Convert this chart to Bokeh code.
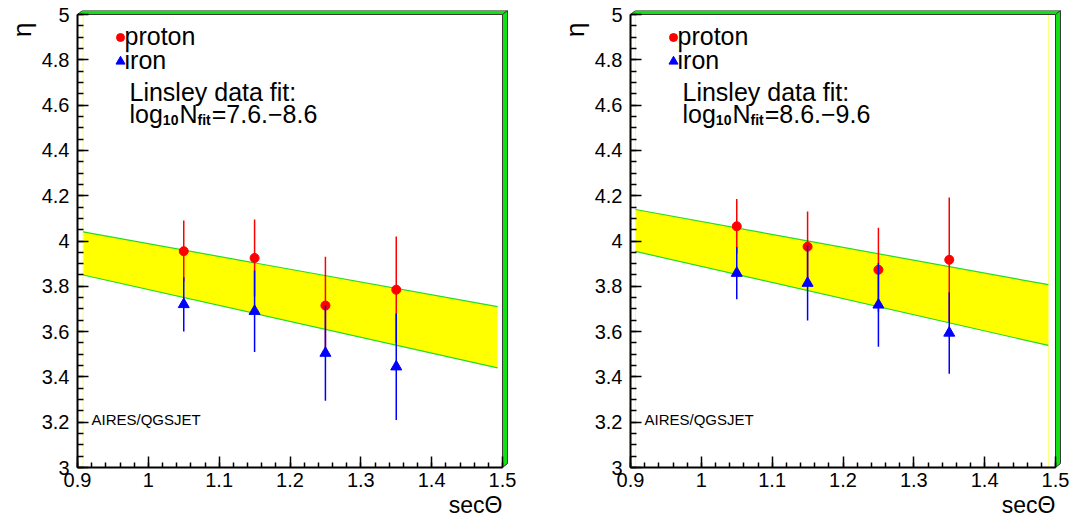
import math
from bokeh.plotting import figure
from bokeh.layouts import row
from bokeh.models import FixedTicker, Range1d, Title
from bokeh.core.properties import value
from bokeh.embed import file_html
from bokeh.resources import INLINE

# ---------------- data ----------------
SEC_THETA = [1.05, 1.15, 1.25, 1.35]

# panel 1 : log10 N_fit = 7.6 - 8.6
P1_PROTON = [3.955, 3.925, 3.715, 3.785]
P1_PROTON_ERR = [0.135, 0.17, 0.215, 0.235]
P1_IRON = [3.72, 3.69, 3.505, 3.445]
P1_IRON_ERR = [0.12, 0.18, 0.21, 0.235]
P1_BAND_X = [0.908, 1.493]
P1_BAND_UP = [4.04, 3.71]
P1_BAND_LO = [3.85, 3.44]
P1_RANGE_TXT = "=7.6.\u22128.6"

# panel 2 : log10 N_fit = 8.6 - 9.6
P2_PROTON = [4.065, 3.975, 3.873, 3.917]
P2_PROTON_ERR = [0.12, 0.155, 0.185, 0.275]
P2_IRON = [3.858, 3.814, 3.718, 3.594]
P2_IRON_ERR = [0.115, 0.165, 0.185, 0.18]
P2_BAND_X = [0.907, 1.49]
P2_BAND_UP = [4.139, 3.807]
P2_BAND_LO = [3.954, 3.539]
P2_RANGE_TXT = "=8.6.\u22129.6"

X_TICKS = [0.9, 1.0, 1.1, 1.2, 1.3, 1.4, 1.5]
X_TICK_LABELS = ["0.9", "1", "1.1", "1.2", "1.3", "1.4", "1.5"]
Y_TICKS = [3.0, 3.2, 3.4, 3.6, 3.8, 4.0, 4.2, 4.4, 4.6, 4.8, 5.0]
Y_TICK_LABELS = ["3", "3.2", "3.4", "3.6", "3.8", "4", "4.2", "4.4", "4.6", "4.8", "5"]
X_MINOR = [round(0.9 + 0.02 * i, 2) for i in range(31)]
Y_MINOR = [round(3.0 + 0.05 * i, 2) for i in range(41)]

# ---------------- layout constants ----------------
X0, X1, Y0, Y1 = 0.9, 1.5, 3.0, 5.0
XS = 425 / 0.6     # px per unit x
YS = 453 / 2.0     # px per unit y
FRAME_W, FRAME_H = 431, 457
FONT = "Liberation Sans"

HELV = {'l': 222, 'o': 556, 'g': 556, 'N': 722, '1': 556, '0': 556, 'f': 278, 'i': 222, 't': 278}
HELV_B = {'1': 556, '0': 556, 'f': 333, 'i': 278, 't': 333}


def tw(s, size, bold=False):
    tab = HELV_B if bold else HELV
    return sum(tab.get(c, 556) for c in s) * size / 1000.0


def make_panel(proton, proton_err, iron, iron_err, band_x, band_up, band_lo,
               range_txt, edge_lines, border_left, border_right):
    p = figure(frame_width=FRAME_W, frame_height=FRAME_H,
               x_range=Range1d(X0, X0 + FRAME_W / XS),
               y_range=Range1d(Y0, Y0 + FRAME_H / YS),
               min_border_left=border_left, min_border_right=border_right,
               min_border_top=10, min_border_bottom=40,
               toolbar_location=None, output_backend="svg", title=None)
    p.outline_line_color = None
    p.grid.visible = False
    p.background_fill_color = "white"
    p.border_fill_color = "white"

    # band
    p.patch([band_x[0], band_x[1], band_x[1], band_x[0]],
            [band_up[0], band_up[1], band_lo[1], band_lo[0]],
            fill_color="#ffff00", line_color=None)
    for ex in edge_lines:
        p.segment([ex], [Y0], [ex], [Y1], line_color="#ffff70", line_width=1)
    p.line(band_x, band_up, line_color="#22dd22", line_width=1.2)
    p.line(band_x, band_lo, line_color="#22dd22", line_width=1.2)

    # proton
    p.segment(SEC_THETA, [v - e for v, e in zip(proton, proton_err)],
              SEC_THETA, [v + e for v, e in zip(proton, proton_err)],
              line_color="#ff0000", line_width=1.5)
    p.scatter(SEC_THETA, proton, marker="circle", size=9,
              fill_color="#ff0000", line_color="#ff0000")
    # iron
    p.segment(SEC_THETA, [v - e for v, e in zip(iron, iron_err)],
              SEC_THETA, [v + e for v, e in zip(iron, iron_err)],
              line_color="#0000ff", line_width=1.5)
    p.scatter(SEC_THETA, iron, marker="triangle", size=11,
              fill_color="#0000ff", line_color="#0000ff")

    # 3D frame border (green bevel)
    bx, by = 5 / XS, 4 / YS
    p.patch([X0, X0 + bx, X1 + bx, X1], [Y1, Y1 + by, Y1 + by, Y1],
            fill_color="#11e011", line_color="#3a3a3a", line_width=1)
    p.patch([X1, X1 + bx, X1 + bx, X1], [Y0, Y0 + by, Y1 + by, Y1],
            fill_color="#11e011", line_color="#3a3a3a", line_width=1)

    # axes
    for ax in (p.xaxis[0], p.yaxis[0]):
        ax.axis_line_width = 2
        ax.axis_line_color = "black"
        ax.major_tick_line_width = 1.5
        ax.minor_tick_line_width = 1.5
        ax.major_tick_out = 0
        ax.minor_tick_out = 0
        ax.major_label_text_font = FONT
        ax.major_label_text_font_size = "20px"
        ax.major_label_text_color = "black"
    p.xaxis.bounds = (X0, X1)
    p.yaxis.bounds = (Y0, Y1)
    p.xaxis.ticker = FixedTicker(ticks=X_TICKS, minor_ticks=X_MINOR)
    p.yaxis.ticker = FixedTicker(ticks=Y_TICKS, minor_ticks=Y_MINOR)
    p.xaxis.major_label_overrides = dict(zip(X_TICKS, X_TICK_LABELS))
    p.yaxis.major_label_overrides = dict(zip(Y_TICKS, Y_TICK_LABELS))
    p.xaxis.major_tick_in = 11
    p.xaxis.minor_tick_in = 5
    p.yaxis.major_tick_in = 11
    p.yaxis.minor_tick_in = 6
    p.xaxis.major_label_standoff = 5
    p.yaxis.major_label_standoff = 8

    # legend-like markers and texts
    p.scatter([X0 + 43 / XS], [Y1 - 23 / YS], marker="circle", size=8,
              fill_color="#ff0000", line_color="#ff0000")
    p.scatter([X0 + 43 / XS], [Y1 - 47 / YS], marker="triangle", size=9,
              fill_color="#0000ff", line_color="#0000ff")

    def txt(s, dx, base, size, bold=False):
        # base: wanted baseline (px below y=5); svg text sits ~0.27*size lower
        p.text(x=[X0], y=[Y1], text=[s], x_offset=dx, y_offset=base - 0.27 * size,
               text_font=value(FONT), text_font_size=f"{size}px",
               text_font_style="bold" if bold else "normal",
               text_align="left", text_baseline="alphabetic", text_color="black")

    txt("proton", 47, 28, 25)
    txt("iron", 47, 52, 25)
    txt("Linsley data fit:", 52, 84, 25)
    cx = 52
    for s, size, bold, drop in [("log", 25, False, 0), ("10", 14, True, 3),
                                ("N", 25, False, 0), ("fit", 14, True, 3),
                                (range_txt, 25, False, 0)]:
        txt(s, cx, 106 + drop, size, bold)
        cx += tw(s, size, bold) + (1 if bold else 0)
    txt("AIRES/QGSJET", 14, 409, 15)

    # axis titles
    p.add_layout(Title(text="\u03b7", align="right", vertical_align="top",
                       text_font=FONT, text_font_size="26px", text_font_style="normal",
                       text_color="black", standoff=0, offset=12), "left")
    p.add_layout(Title(text="sec\u0398", align="right", text_font=FONT,
                       text_font_size="23px", text_font_style="normal",
                       text_color="black", standoff=0, offset=6), "below")
    return p


p1 = make_panel(P1_PROTON, P1_PROTON_ERR, P1_IRON, P1_IRON_ERR, P1_BAND_X,
                P1_BAND_UP, P1_BAND_LO, P1_RANGE_TXT, [P1_BAND_X[0]], 77, 51)
p2 = make_panel(P2_PROTON, P2_PROTON_ERR, P2_IRON, P2_IRON_ERR, P2_BAND_X,
                P2_BAND_UP, P2_BAND_LO, P2_RANGE_TXT, P2_BAND_X, 71, 8)

layout = row(p1, p2)
open("out.html", "w").write(file_html(layout, INLINE))
